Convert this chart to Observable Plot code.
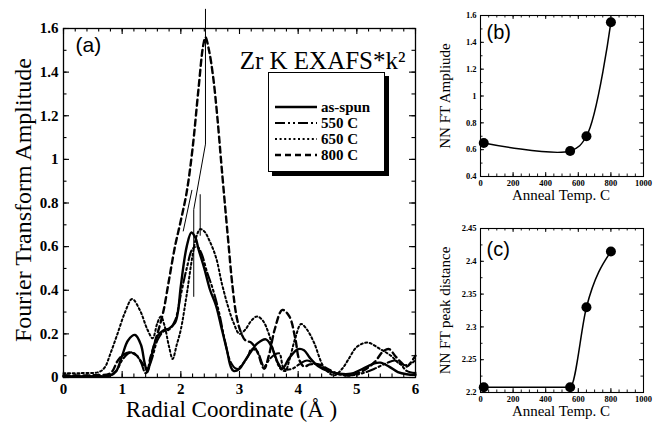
<!DOCTYPE html>
<html><head><meta charset="utf-8">
<script src="https://cdn.jsdelivr.net/npm/d3@7"></script>
<script src="https://cdn.jsdelivr.net/npm/@observablehq/plot@0.6"></script>
<style>
body{margin:0;background:#fff;}
#wrap{position:relative;width:653px;height:423px;overflow:hidden;font-family:"Liberation Serif",serif;background:#fff;}
.p{position:absolute;}
#legend{position:absolute;left:268px;top:72px;width:115px;height:98px;border:1.5px solid #000;box-shadow:4px 4px 0 #000;background:#fff;}
.lrow{position:absolute;left:6px;height:14px;display:flex;align-items:center;font:bold 15px/14px "Liberation Serif",serif;color:#000;}
.lrow span{display:inline-block;height:14px;line-height:14px;}
.lrow svg{margin-right:4px;}
</style></head>
<body><div id="wrap"><div id="legend"></div></div>
<script>
// ---------- DATA ----------
const seriesNames = ["as-spun", "550 C", "650 C", "800 C"];

const asSpunX = [0,0.5,0.8,0.9,1.0,1.1,1.22,1.32,1.38,1.43,1.5,1.6,1.7,1.8,1.9,1.95,2.0,2.1,2.18,2.25,2.3,2.4,2.5,2.6,2.7,2.79,2.85,2.9,3.0,3.1,3.2,3.3,3.45,3.55,3.65,3.73,3.85,4.0,4.1,4.2,4.35,4.5,4.7,4.9,5.1,5.3,5.4,5.55,5.7,5.85,6.0];
const asSpunY = [0.005,0.005,0.01,0.03,0.1,0.17,0.195,0.15,0.07,0.025,0.1,0.19,0.215,0.225,0.25,0.3,0.42,0.6,0.665,0.64,0.59,0.5,0.4,0.33,0.22,0.12,0.05,0.03,0.04,0.08,0.12,0.155,0.175,0.14,0.07,0.04,0.09,0.13,0.125,0.09,0.05,0.03,0.017,0.017,0.04,0.065,0.068,0.05,0.025,0.015,0.012];

const c550X = [0,0.5,0.8,0.9,1.0,1.1,1.17,1.25,1.32,1.4,1.5,1.6,1.7,1.8,1.9,2.0,2.1,2.2,2.28,2.35,2.45,2.54,2.65,2.75,2.85,2.95,3.05,3.15,3.2,3.3,3.42,3.5,3.6,3.68,3.76,3.9,4.04,4.15,4.3,4.5,4.7,4.9,5.1,5.3,5.5,5.65,5.75,5.85,6.0];
const c550Y = [0.005,0.005,0.01,0.03,0.08,0.11,0.115,0.1,0.07,0.02,0.08,0.17,0.21,0.22,0.26,0.38,0.5,0.59,0.6,0.57,0.48,0.41,0.3,0.17,0.07,0.04,0.06,0.1,0.13,0.12,0.05,0.08,0.105,0.11,0.04,0.04,0.065,0.078,0.06,0.035,0.015,0.01,0.02,0.04,0.065,0.078,0.06,0.03,0.02];

const c650X = [0,0.3,0.6,0.7,0.8,0.92,1.05,1.17,1.3,1.43,1.52,1.6,1.66,1.72,1.8,1.86,1.93,2.0,2.1,2.2,2.27,2.33,2.4,2.5,2.6,2.7,2.8,2.9,3.0,3.1,3.2,3.3,3.4,3.5,3.6,3.7,3.78,3.85,3.95,4.05,4.15,4.27,4.44,4.61,4.75,4.85,5.0,5.18,5.4,5.58,5.75,5.9,6.0];
const c650Y = [0.02,0.02,0.025,0.045,0.11,0.2,0.3,0.36,0.31,0.22,0.18,0.25,0.28,0.24,0.14,0.085,0.15,0.22,0.38,0.56,0.65,0.68,0.67,0.62,0.55,0.43,0.33,0.25,0.2,0.22,0.26,0.28,0.26,0.2,0.1,0.04,0.03,0.08,0.18,0.245,0.22,0.16,0.047,0.01,0.04,0.08,0.14,0.16,0.13,0.1,0.06,0.06,0.08];

const c800X = [0,0.5,0.8,0.92,1.0,1.14,1.25,1.31,1.43,1.48,1.6,1.7,1.8,1.9,2.0,2.1,2.2,2.3,2.38,2.42,2.48,2.55,2.62,2.7,2.8,2.88,2.95,3.02,3.1,3.2,3.3,3.42,3.5,3.6,3.73,3.85,3.95,4.02,4.1,4.2,4.35,4.5,4.7,4.9,5.1,5.3,5.45,5.55,5.65,5.75,5.85,5.95,6.0];
const c800Y = [0.01,0.01,0.02,0.075,0.1,0.115,0.1,0.078,0.04,0.09,0.2,0.3,0.45,0.6,0.72,0.85,1.05,1.32,1.52,1.56,1.5,1.38,1.2,0.95,0.65,0.42,0.28,0.21,0.17,0.16,0.12,0.04,0.1,0.22,0.31,0.28,0.18,0.08,0.05,0.06,0.06,0.04,0.015,0.01,0.03,0.07,0.12,0.13,0.1,0.07,0.05,0.08,0.1];

// peak-position marker segments (x1,y1)->(x2,y2)
const markX1 = [2.42, 2.42, 2.22, 2.33, 2.19];
const markY1 = [1.69, 1.07, 0.77, 0.84, 0.86];
const markX2 = [2.42, 2.22, 2.22, 2.33, 2.04];
const markY2 = [1.07, 0.77, 0.37, 0.65, 0.67];

// panels (b) and (c)
const annealTemp = [20, 550, 650, 800];
const nnAmplitude = [0.65, 0.59, 0.70, 1.55];
const nnDistance = [2.208, 2.208, 2.33, 2.415];

// tick labels
const xTicksA = [0,1,2,3,4,5,6];
const yTicksA = [0,0.2,0.4,0.6,0.8,1,1.2,1.4,1.6];
const xTicksBC = [0,200,400,600,800,1000];
const yTicksB = [0.4,0.6,0.8,1,1.2,1.4,1.6];
const yTicksC = [2.2,2.25,2.3,2.35,2.4,2.45];

// ---------- helpers ----------
const xsAll = [asSpunX, c550X, c650X, c800X];
const ysAll = [asSpunY, c550Y, c650Y, c800Y];
const lineStyles = [
  {strokeWidth: 2.4, dash: undefined},
  {strokeWidth: 2.1, dash: "10,3,2,3,2,3"},
  {strokeWidth: 2.0, dash: "2,2.6"},
  {strokeWidth: 2.4, dash: "6,4"}
];
const rowsAll = xsAll.map((xs, i) => xs.map((x, j) => ({x, y: ysAll[i][j]})));
const segs = markX1.map((x1, i) => ({x1, y1: markY1[i], x2: markX2[i], y2: markY2[i]}));

function frameTicks(W, H, m, xMaj, xMin, yMaj, yMin, maj, mn, sw) {
  const iw = W - m.l - m.r, ih = H - m.t - m.b;
  const o = {stroke: "#000", strokeWidth: sw};
  return [
    Plot.ruleX(xMin, {...o, insetTop: ih - mn}), Plot.ruleX(xMin, {...o, insetBottom: ih - mn}),
    Plot.ruleX(xMaj, {...o, insetTop: ih - maj}), Plot.ruleX(xMaj, {...o, insetBottom: ih - maj}),
    Plot.ruleY(yMin, {...o, insetRight: iw - mn}), Plot.ruleY(yMin, {...o, insetLeft: iw - mn}),
    Plot.ruleY(yMaj, {...o, insetRight: iw - maj}), Plot.ruleY(yMaj, {...o, insetLeft: iw - maj})
  ];
}
const wrap = document.getElementById("wrap");
function place(el, left, top) {
  const d = document.createElement("div");
  d.className = "p"; d.style.left = left + "px"; d.style.top = top + "px";
  d.appendChild(el); wrap.insertBefore(d, document.getElementById("legend"));
}
const baseStyle = {fontFamily: "Liberation Serif", color: "#000", background: "transparent", overflow: "visible"};

// ---------- panel (a) ----------
const WA = 430, HA = 423, mA = {l: 63, r: 15, t: 28, b: 46};
const plotA = Plot.plot({
  width: WA, height: HA,
  marginLeft: mA.l, marginRight: mA.r, marginTop: mA.t, marginBottom: mA.b,
  x: {domain: [0, 6]}, y: {domain: [0, 1.6]},
  style: {...baseStyle, fontSize: "15px"},
  marks: [
    ...rowsAll.map((rows, i) => Plot.line(rows, {
      x: "x", y: "y", stroke: "#000", strokeWidth: lineStyles[i].strokeWidth,
      strokeDasharray: lineStyles[i].dash, curve: "catmull-rom"
    })),
    Plot.link(segs, {x1: "x1", y1: "y1", x2: "x2", y2: "y2", stroke: "#000", strokeWidth: 1}),
    Plot.frame({stroke: "#000", strokeWidth: 1.3}),
    ...frameTicks(WA, HA, mA, xTicksA, d3.range(0, 6.001, 0.2), yTicksA, d3.range(0, 1.601, 0.1), 6, 3.5, 1.1),
    Plot.axisX(xTicksA, {tickSize: 0, tickPadding: 6, fontSize: 15, fontWeight: "bold", tickFormat: d => String(d), label: null}),
    Plot.axisY(yTicksA, {tickSize: 0, tickPadding: 5, fontSize: 15, fontWeight: "bold", tickFormat: d => String(d), label: null}),
    Plot.text(["Fourier Transform Amplitude"], {text: d => d, frameAnchor: "left", textAnchor: "middle", rotate: -90, dx: -40, dy: -3, fontSize: 24}),
    Plot.text(["Radial Coordinate (Å )"], {text: d => d, frameAnchor: "bottom", lineAnchor: "bottom", dx: -8, dy: 39, fontSize: 23}),
    Plot.text(["Zr K EXAFS*k²"], {text: d => d, frameAnchor: "top-right", textAnchor: "end", lineAnchor: "bottom", dx: -10, dy: 40, fontSize: 25}),
    Plot.text(["(a)"], {text: d => d, frameAnchor: "top-left", textAnchor: "start", lineAnchor: "top", dx: 12, dy: 9, fontSize: 21, fontFamily: "Liberation Sans"})
  ]
});
place(plotA, 0, 0);

// ---------- panels (b), (c) ----------
function smallPanel(yVals, yDomain, yTicks, yMinor, curve, W, H, m, ylabel, tag, tagDy) {
  const pts = annealTemp.map((t, i) => ({t, v: yVals[i]}));
  return Plot.plot({
    width: W, height: H,
    marginLeft: m.l, marginRight: m.r, marginTop: m.t, marginBottom: m.b,
    x: {domain: [0, 1000]}, y: {domain: yDomain},
    style: {...baseStyle, fontSize: "9px"},
    marks: [
      Plot.line(pts, {x: "t", y: "v", stroke: "#000", strokeWidth: 1.5, curve}),
      Plot.dot(pts, {x: "t", y: "v", r: 5, fill: "#000", stroke: "none"}),
      Plot.frame({stroke: "#000", strokeWidth: 1.1}),
      ...frameTicks(W, H, m, xTicksBC, d3.range(0, 1000.1, 50), yTicks, yMinor, 4, 2.5, 0.9),
      Plot.axisX(xTicksBC, {tickSize: 0, tickPadding: 3, fontSize: 8.5, fontWeight: "bold", tickFormat: d => String(d), label: null}),
      Plot.axisY(yTicks, {tickSize: 0, tickPadding: 4, fontSize: 8.5, fontWeight: "bold", tickFormat: d => String(d), label: null}),
      Plot.text([ylabel], {text: d => d, frameAnchor: "left", textAnchor: "middle", rotate: -90, dx: -35, fontSize: 15}),
      Plot.text(["Anneal Temp. C"], {text: d => d, frameAnchor: "bottom", lineAnchor: "bottom", dx: -1, dy: 23, fontSize: 15}),
      Plot.text([tag], {text: d => d, frameAnchor: "top-left", textAnchor: "start", lineAnchor: "top", dx: 6, dy: tagDy, fontSize: 20, fontFamily: "Liberation Sans"})
    ]
  });
}
place(smallPanel(nnAmplitude, [0.4, 1.6], yTicksB, d3.range(0.4, 1.601, 0.1), "catmull-rom",
  223, 210, {l: 50, r: 10, t: 15, b: 34}, "NN FT Ampliude", "(b)", 9), 430, 0);
place(smallPanel(nnDistance, [2.2, 2.45], yTicksC, d3.range(2.2, 2.451, 0.025), "monotone-x",
  223, 213, {l: 50, r: 10, t: 18, b: 31}, "NN FT peak distance", "(c)", 13), 430, 210);

// ---------- legend ----------
const legend = document.getElementById("legend");
const rowTops = [27, 43, 59, 75];
seriesNames.forEach((n, i) => {
  const r = document.createElement("div");
  r.className = "lrow"; r.style.top = rowTops[i] + "px";
  const s = lineStyles[i];
  r.innerHTML = `<svg width="42" height="10"><line x1="0" y1="5" x2="42" y2="5" stroke="#000" stroke-width="${s.strokeWidth}" ${s.dash ? `stroke-dasharray="${s.dash}"` : ""}/></svg><span>${n}</span>`;
  legend.appendChild(r);
});
</script>
</body></html>
